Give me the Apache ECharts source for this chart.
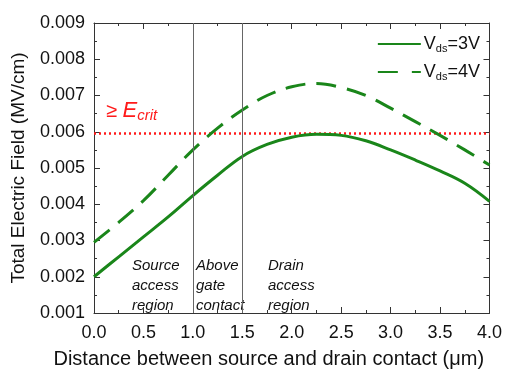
<!DOCTYPE html>
<html><head><meta charset="utf-8">
<script src="https://cdn.jsdelivr.net/npm/echarts@6/dist/echarts.min.js"></script>
<style>html,body{margin:0;padding:0;background:#fff}#c{width:505px;height:374px}</style>
</head><body><div id="c"></div>
<script>
var xValues = [0, 0.25, 0.5, 0.75, 1.0, 1.25, 1.5, 1.75, 2.0, 2.25, 2.5, 2.75, 3.0, 3.25, 3.5, 3.75, 4.0];
var vds3 = [0.0020, 0.00255, 0.0031, 0.00365, 0.00424, 0.0048, 0.00532, 0.00565, 0.00585, 0.00593, 0.0059, 0.00575, 0.0055, 0.00522, 0.00492, 0.00458, 0.00408];
var vds4 = [0.00295, 0.0035, 0.0041, 0.0048, 0.0055, 0.0061, 0.0066, 0.0070, 0.00724, 0.00733, 0.00722, 0.0070, 0.00665, 0.00628, 0.0059, 0.0055, 0.00508];
var eCrit = 0.00595;
var xRange = [0, 4];
var regionBounds = [1.0, 1.5];
var seriesNames = ['V{sub|ds}=3V', 'V{sub|ds}=4V'];
var regionLabels = [['Source','access','region'],['Above','gate','contact'],['Drain','access','region']];

var font = 'Liberation Sans, Arial, sans-serif';
var green = '#1a861a';
function pairs(ys){ return xValues.map(function(x,i){return [x, ys[i]];}); }
var chart = echarts.init(document.getElementById('c'));
var axisCommon = {
  axisLine:{show:true, onZero:false, lineStyle:{color:'#333', width:1}},
  axisTick:{show:true, inside:true, length:6, lineStyle:{color:'#333'}},
  minorTick:{show:true, splitNumber:2, length:3, lineStyle:{color:'#333'}},
  splitLine:{show:false}
};
chart.setOption({
  animation:false,
  grid:{left:94, right:12, top:23, bottom:57},
  legend:{
    right:20, top:30, orient:'vertical', itemWidth:43, itemHeight:10, itemGap:9,
    data:[
      {name:seriesNames[0], itemStyle:{opacity:0}},
      {name:seriesNames[1], itemStyle:{opacity:0}, lineStyle:{type:[20,14]}}
    ],
    textStyle:{fontFamily:font, fontSize:18, color:'#111', padding:[0,0,0,-2],
      rich:{sub:{fontFamily:font, fontSize:11, color:'#111', verticalAlign:'bottom', padding:[9,0,0,0]}}}
  },
  xAxis:[
    Object.assign({type:'value', min:0, max:4, interval:0.5, position:'bottom',
      name:'Distance between source and drain contact (\u03bcm)', nameLocation:'middle', nameGap:36,
      nameTextStyle:{fontFamily:font, fontSize:20, color:'#111', padding:[0,46,0,0]},
      axisLabel:{fontFamily:font, fontSize:18, color:'#111', margin:11, formatter:function(v){return v.toFixed(1);}}}, axisCommon),
    Object.assign({type:'value', min:0, max:4, interval:0.5, position:'top', axisLabel:{show:false}}, axisCommon)
  ],
  yAxis:[
    Object.assign({type:'value', min:0.001, max:0.009, interval:0.001, position:'left',
      name:'Total Electric Field (MV/cm)', nameLocation:'middle', nameGap:66,
      nameTextStyle:{fontFamily:font, fontSize:19, color:'#111'},
      axisLabel:{fontFamily:font, fontSize:18, color:'#111', margin:9, formatter:function(v){return v.toFixed(3);}}}, axisCommon),
    Object.assign({type:'value', min:0.001, max:0.009, interval:0.001, position:'right', axisLabel:{show:false}}, axisCommon)
  ],
  series:[
    {name:'Ecrit', type:'line', data:xRange.map(function(x){return [x, eCrit];}), symbol:'none', silent:true,
      lineStyle:{color:'#ff1a1a', width:2.5, type:[2,3]}, z:1},
    {name:seriesNames[0], type:'line', data:pairs(vds3), smooth:0.4, symbol:'none', showSymbol:false,
      lineStyle:{color:green, width:3}, itemStyle:{color:green}, z:3,
      markLine:{silent:true, symbol:'none', label:{show:false},
        data:regionBounds.map(function(b){return {xAxis:b, lineStyle:{color:'#666', width:1, type:'solid'}};})}},
    {name:seriesNames[1], type:'line', data:pairs(vds4), smooth:0.4, symbol:'none', showSymbol:false,
      lineStyle:{color:green, width:3, type:[20,11]}, itemStyle:{color:green}, z:3}
  ],
  graphic:[
    {type:'text', left:106, top:100, style:{text:'\u2265 {e|E}{s|crit}', fill:'#ff1a1a', font:'20px '+font,
      rich:{e:{fontSize:22, fontStyle:'italic', fill:'#ff1a1a', fontFamily:font}, s:{fontSize:15, fontStyle:'italic', fill:'#ff1a1a', fontFamily:font, verticalAlign:'bottom', padding:[10,0,0,0]}}}},
    {type:'text', left:132, top:256, style:{text:regionLabels[0].join('\n'), fill:'#111', font:'italic 15px '+font, lineHeight:20}},
    {type:'text', left:196, top:256, style:{text:regionLabels[1].join('\n'), fill:'#111', font:'italic 15px '+font, lineHeight:20}},
    {type:'text', left:268, top:256, style:{text:regionLabels[2].join('\n'), fill:'#111', font:'italic 15px '+font, lineHeight:20}}
  ]
});
</script></body></html>
